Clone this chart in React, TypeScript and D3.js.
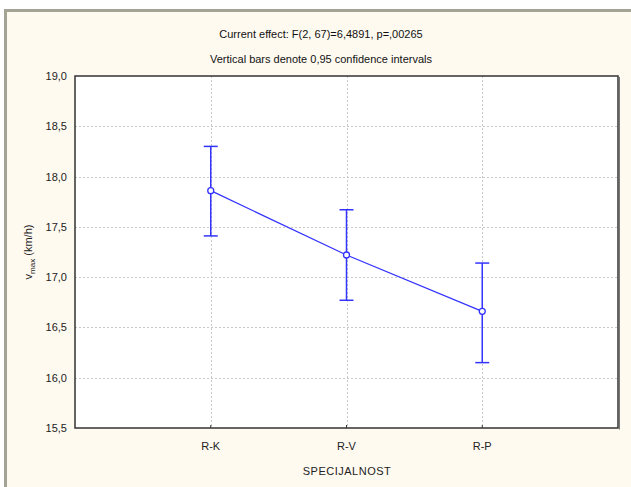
import React from 'react';
import * as d3 from 'd3';

// data
const groups = ['R-K', 'R-V', 'R-P'];
const means = [17.86, 17.22, 16.66];
const upper = [18.3, 17.67, 17.14];
const lower = [17.41, 16.77, 16.15];
const yTicks = [15.5, 16, 16.5, 17, 17.5, 18, 18.5, 19];

const W = 631;
const H = 487;

const App = () => {
  const m = { top: 76, right: 13, bottom: 59, left: 75 };
  const x = d3.scalePoint<string>().domain(groups).range([m.left, W - m.right]).padding(1);
  const y = d3.scaleLinear().domain([15.5, 19]).range([H - m.bottom, m.top]);
  const fmt = (v: number) => d3.format('.1f')(v).replace('.', ',');
  const line = d3.line<number>().x((d, i) => x(groups[i])!).y(d => y(d));
  const blue = '#3333ff';
  const font = '"Liberation Sans", Arial, sans-serif';

  return (
    <svg width={W} height={H} style={{ position: 'absolute', left: 0, top: 0 }} fontFamily={font}>
      <rect x={0} y={0} width={W} height={H} fill="#ffffff" />
      <rect x={5.5} y={10.5} width={W + 20} height={H + 20} fill="#fffaf0" stroke="#a3a396" strokeWidth={3} />

      <text x={321} y={38} textAnchor="middle" fontSize={11} fill="#111">Current effect: F(2, 67)=6,4891, p=,00265</text>
      <text x={321} y={63} textAnchor="middle" fontSize={11} fill="#111">Vertical bars denote 0,95 confidence intervals</text>

      <rect x={m.left} y={m.top} width={W - m.right - m.left} height={H - m.bottom - m.top} fill="#ffffff" />

      <g stroke="#c8c8c8" strokeDasharray="2,2" strokeWidth={1}>
        {yTicks.slice(1, -1).map(t => (
          <line key={t} x1={m.left} x2={W - m.right} y1={Math.round(y(t)) + 0.5} y2={Math.round(y(t)) + 0.5} />
        ))}
        {groups.map(g => (
          <line key={g} x1={Math.round(x(g)!) + 0.5} x2={Math.round(x(g)!) + 0.5} y1={m.top} y2={H - m.bottom} />
        ))}
      </g>

      <rect x={m.left} y={m.top} width={W - m.right - m.left} height={H - m.bottom - m.top} fill="none" stroke="#333" strokeWidth={1.5} />
      <line x1={W - m.right + 1.5} x2={W - m.right + 1.5} y1={m.top + 1} y2={H - m.bottom + 1.5} stroke="#777" strokeWidth={1} />

      <g fontSize={11} fill="#222" textAnchor="end">
        {yTicks.map(t => (
          <text key={t} x={m.left - 8} y={y(t) + 4}>{fmt(t)}</text>
        ))}
      </g>
      <g fontSize={11} fill="#222" textAnchor="middle">
        {groups.map(g => (
          <g key={g}>
            <line x1={x(g)} x2={x(g)} y1={H - m.bottom - 3} y2={H - m.bottom} stroke="#333" />
            <text x={x(g)} y={H - m.bottom + 22}>{g}</text>
          </g>
        ))}
      </g>
      <text x={347} y={475} textAnchor="middle" fontSize={11} fill="#222" letterSpacing={0.5}>SPECIJALNOST</text>
      <text transform={`translate(32,${(m.top + H - m.bottom) / 2}) rotate(-90)`} textAnchor="middle" fontSize={11} fill="#222">
        v<tspan fontSize={8} dy={3}>max</tspan><tspan dy={-3}> (km/h)</tspan>
      </text>

      <path d={line(means) || ''} fill="none" stroke={blue} strokeWidth={1.3} />
      <g stroke={blue} strokeWidth={1.5}>
        {groups.map((g, i) => (
          <g key={g}>
            <line x1={x(g)} x2={x(g)} y1={y(upper[i])} y2={y(lower[i])} />
            <line x1={x(g)! - 7} x2={x(g)! + 7} y1={y(upper[i])} y2={y(upper[i])} />
            <line x1={x(g)! - 7} x2={x(g)! + 7} y1={y(lower[i])} y2={y(lower[i])} />
          </g>
        ))}
      </g>
      {groups.map((g, i) => (
        <circle key={g} cx={x(g)} cy={y(means[i])} r={3} fill="#ffffff" stroke={blue} strokeWidth={1.3} />
      ))}
    </svg>
  );
};

export default App;
